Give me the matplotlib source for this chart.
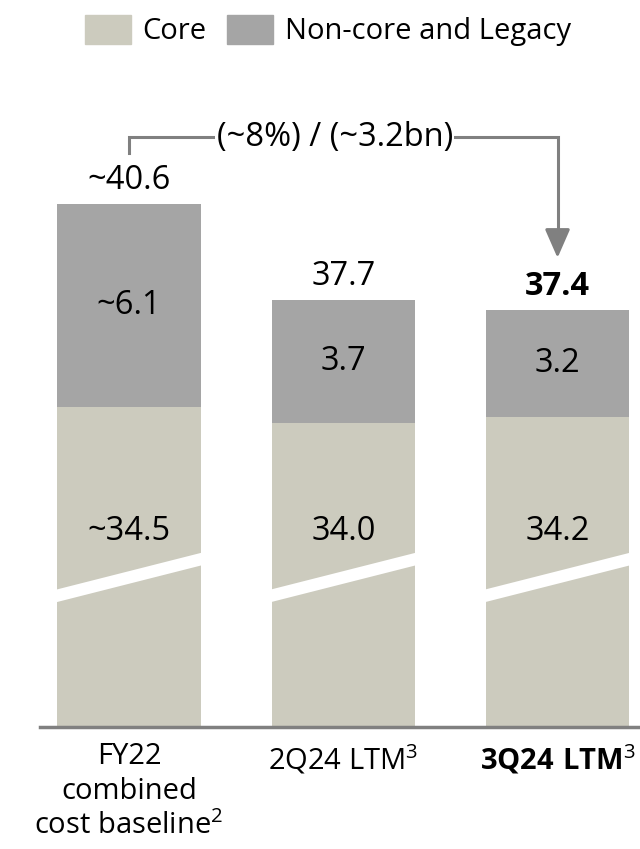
import matplotlib
matplotlib.use("Agg")
import matplotlib.pyplot as plt
from matplotlib.patches import Polygon, Patch
import numpy as np

plt.rcParams.update({
    'font.family': ['Open Sans', 'DejaVu Sans'],
    'font.size': 22,
    'mathtext.fontset': 'custom',
    'mathtext.rm': 'Open Sans',
    'mathtext.bf': 'Open Sans:bold',
})

# data
categories = ["FY22\ncombined\ncost baseline$^{2}$", "2Q24 LTM$^{3}$", r"$\mathbf{3Q24\ LTM}^{3}$"]
core = [34.5, 34.0, 34.2]
noncore = [6.1, 3.7, 3.2]
totals = [40.6, 37.7, 37.4]
core_labels = ["~34.5", "34.0", "34.2"]
noncore_labels = ["~6.1", "3.7", "3.2"]
total_labels = ["~40.6", "37.7", "37.4"]
change_label = "(~8%) / (~3.2bn)"

CORE_C = "#cccbbe"
NONCORE_C = "#a5a5a5"
LINE_C = "#808080"
NUM_FS = 23.5

fig = plt.figure(figsize=(6.4, 8.49), dpi=100)
ax = fig.add_axes([40 / 640, 122 / 849, 600 / 640, 727 / 849])

x = np.arange(len(categories))
width = 0.67
ax.bar(x, core, width, color=CORE_C, label="Core")
ax.bar(x, noncore, width, bottom=core, color=NONCORE_C, label="Non-core and Legacy")

# broken-axis band across the core part
y_lo = 24.85
ax.set_ylim(y_lo, y_lo + 727 / 33.2)
ax.set_xlim(-0.416, 2.385)
brk, thick, rise = 28.6, 0.38, 1.13
for xi in x:
    l, r = xi - width / 2 - 0.01, xi + width / 2 + 0.01
    ax.add_patch(Polygon([(l, brk), (r, brk + rise), (r, brk + rise + thick), (l, brk + thick)],
                         closed=True, color="white", zorder=3, lw=0))

# labels
for i in x:
    bold = "bold" if i == 2 else "normal"
    ax.annotate(total_labels[i], (i, totals[i]), xytext=(0, 5), textcoords="offset points",
                ha="center", va="bottom", fontweight=bold, fontsize=NUM_FS)
    ax.text(i, core[i] + noncore[i] / 2, noncore_labels[i], ha="center", va="center", fontsize=NUM_FS)
    ax.text(i, 30.75, core_labels[i], ha="center", va="center", fontsize=NUM_FS, zorder=4)

# bracket with arrow from first to last bar
yb = 42.62
ax.plot([0, 0, 2, 2], [42.15, yb, yb, 39.4], color=LINE_C, lw=2.2, clip_on=False,
        solid_joinstyle="miter")
ax.annotate("", xy=(2, 38.98), xytext=(2, 39.6),
            arrowprops=dict(arrowstyle="-|>,head_length=0.8,head_width=0.35",
                            color=LINE_C, lw=2.2, shrinkA=0, shrinkB=0))
ax.text(0.96, yb, change_label, ha="center", va="center", fontsize=NUM_FS,
        bbox=dict(facecolor="white", edgecolor="none", pad=1))

# axes styling
for s in ["top", "left", "right"]:
    ax.spines[s].set_visible(False)
ax.spines["bottom"].set_color(LINE_C)
ax.spines["bottom"].set_linewidth(2.5)
ax.set_yticks([])
ax.set_xticks(x)
ax.set_xticklabels(categories, linespacing=1.25, fontsize=21)
ax.tick_params(axis="x", length=0, pad=11)

handles = [Patch(color=CORE_C, label="Core"), Patch(color=NONCORE_C, label="Non-core and Legacy")]
fig.legend(handles=handles, loc="upper center", bbox_to_anchor=(0.5125, 1.0), ncol=2,
           frameon=False, fontsize=21, handlelength=1.58, handleheight=1.17,
           handletextpad=0.4, columnspacing=0.7, borderaxespad=0.1)

fig.savefig("out.png", dpi=100)
